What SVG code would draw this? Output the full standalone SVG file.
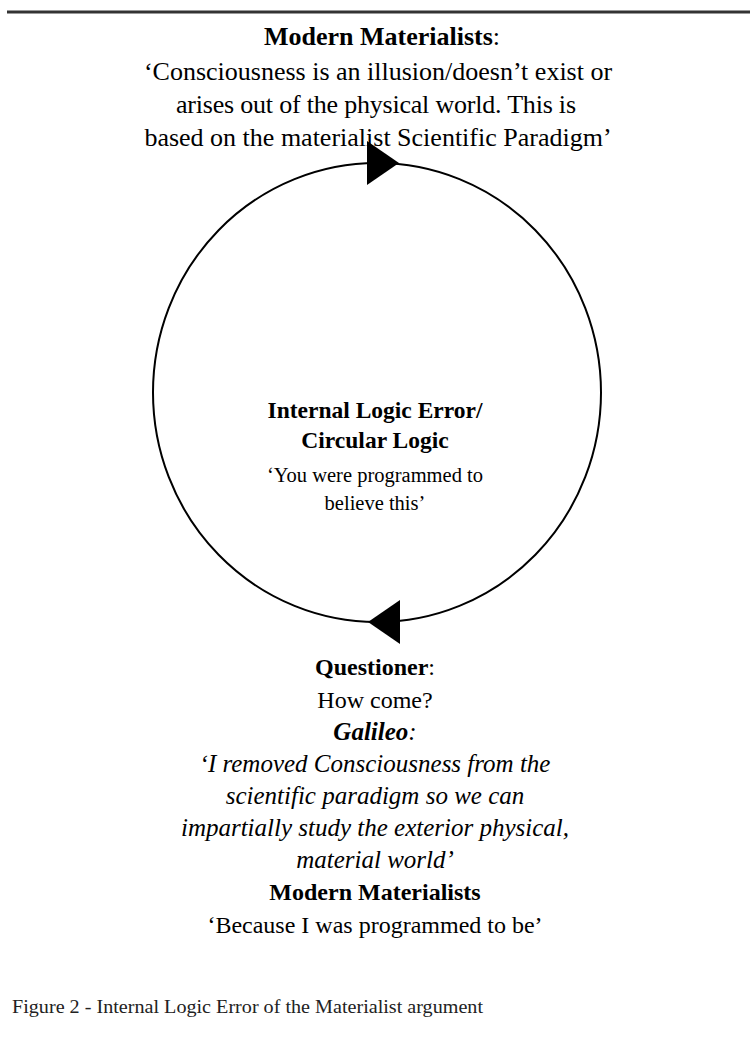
<svg xmlns="http://www.w3.org/2000/svg" width="750" height="1059" viewBox="0 0 750 1059">
  <style>
    text { font-family: "Liberation Serif", "Times New Roman", serif; fill: #000; text-anchor: middle; }
    .b { font-weight: bold; }
    .i { font-style: italic; }
    .top { font-size: 26px; }
    .hd { font-size: 23.5px; font-weight: bold; }
    .small { font-size: 20.5px; }
    .low { font-size: 24px; }
    .lowi { font-size: 25px; font-style: italic; }
    .cap { font-size: 19px; text-anchor: start; fill: #222; }
  </style>
  <defs>
    <polygon id="head" points="0,-22 32,0 0,22" fill="#000"/>
  </defs>
  <rect x="0" y="0" width="750" height="1059" fill="#fff"/>
  <line x1="7" y1="12" x2="750" y2="12" stroke="#333" stroke-width="3"/>

  <!-- the loop and its two direction arrows -->
  <g id="connectors">
    <ellipse cx="377" cy="392.5" rx="224" ry="229.5" fill="none" stroke="#000" stroke-width="2"/>
    <use href="#head" x="367" y="163"/>
    <use href="#head" transform="translate(400,622) scale(-1,1)"/>
  </g>

  <g id="top-claim">
    <text x="382" y="45" class="top"><tspan class="b">Modern Materialists</tspan>:</text>
    <text x="378" y="80" class="top">‘Consciousness is an illusion/doesn’t exist or</text>
    <text x="376" y="113" class="top" textLength="400">arises out of the physical world. This is</text>
    <text x="378" y="146" class="top">based on the materialist Scientific Paradigm’</text>
  </g>

  <g id="center">
    <text x="375" y="418" class="hd">Internal Logic Error/</text>
    <text x="375" y="448" class="hd">Circular Logic</text>
    <text x="375" y="482" class="small">‘You were programmed to</text>
    <text x="375" y="510" class="small">believe this’</text>
  </g>

  <g id="bottom-dialogue">
    <text x="375" y="675" class="low"><tspan class="b">Questioner</tspan>:</text>
    <text x="375" y="708" class="low">How come?</text>
    <text x="375" y="740" class="lowi"><tspan class="b">Galileo</tspan>:</text>
    <text x="375" y="772" class="lowi">‘I removed Consciousness from the</text>
    <text x="375" y="804" class="lowi">scientific paradigm so we can</text>
    <text x="375" y="836" class="lowi">impartially study the exterior physical,</text>
    <text x="375" y="868" class="lowi">material world’</text>
    <text x="375" y="900" class="low b">Modern Materialists</text>
    <text x="375" y="933" class="low">‘Because I was programmed to be’</text>
  </g>

  <text x="12" y="1013" class="cap" textLength="471" lengthAdjust="spacingAndGlyphs">Figure 2 - Internal Logic Error of the Materialist argument</text>
</svg>
